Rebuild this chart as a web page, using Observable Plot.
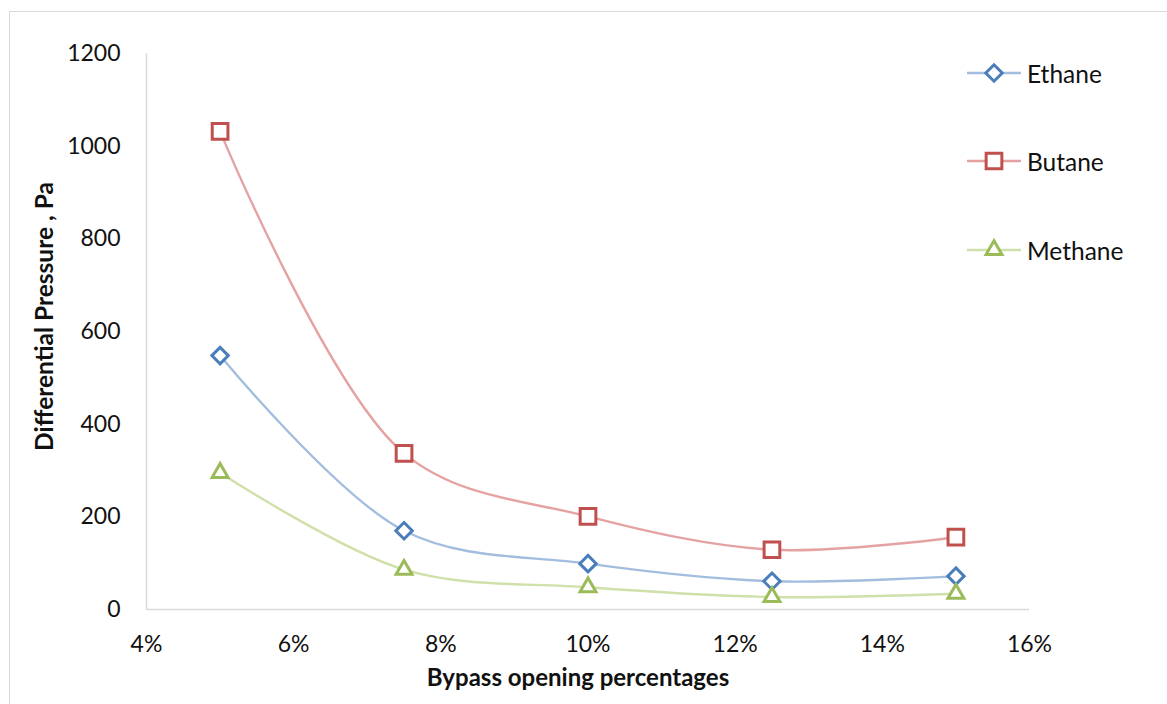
<!DOCTYPE html>
<html>
<head>
<meta charset="utf-8">
<script src="https://cdn.jsdelivr.net/npm/d3@7"></script>
<script src="https://cdn.jsdelivr.net/npm/@observablehq/plot@0.6"></script>
<style>
  html, body { margin: 0; padding: 0; background: #fff; }
  #wrap { position: relative; width: 1167px; height: 704px; overflow: hidden; }
  #frame { position: absolute; left: 9px; top: 11px; width: 1200px; height: 800px;
           border-left: 1.5px solid #d9d9d9; border-top: 1.5px solid #d9d9d9; }
  #chart { position: absolute; left: 0; top: 0; }
  #legend { position: absolute; left: 966px; top: 0; font-family: Lato, "Open Sans", sans-serif;
            font-size: 24.5px; color: #111; }
  .item { position: absolute; left: 0; display: flex; align-items: center; white-space: nowrap; }
  .item svg { margin-right: 5px; }
</style>
</head>
<body>
<div id="wrap">
  <div id="frame"></div>
  <div id="chart"></div>
  <div id="legend"></div>
</div>
<script>
// Bypass opening (%) and measured differential pressure (Pa) per gas
const bypass = [5, 7.5, 10, 12.5, 15];
const ethane = [548, 170, 99, 61, 72];
const butane = [1032, 337, 201, 129, 156];
const methane = [295, 86, 48, 27, 34];

const xTicks = [4, 6, 8, 10, 12, 14, 16];
const yTicks = [0, 200, 400, 600, 800, 1000, 1200];

const series = [
  {name: "Ethane", values: ethane, line: "#a3bddf", mark: "#4a7ebb", symbol: "diamond2", r: 7.4},
  {name: "Butane", values: butane, line: "#e4a3a2", mark: "#c0504d", symbol: "square2", r: 10},
  {name: "Methane", values: methane, line: "#cfe0aa", mark: "#9bbb59", symbol: "triangle2", r: 7.6}
];

const tables = series.map(s => bypass.map((b, i) => ({x: b, y: s.values[i]})));

const marks = [
  Plot.ruleY([0], {stroke: "#d9d9d9", strokeWidth: 1.5}),
  Plot.ruleX([4], {stroke: "#d9d9d9", strokeWidth: 1.5}),
  Plot.axisX({ticks: xTicks, tickFormat: d => d + "%", tickSize: 0, tickPadding: 26,
              fontSize: 23, label: null}),
  Plot.axisY({ticks: yTicks, tickFormat: d => String(d), tickSize: 0, tickPadding: 26,
              fontSize: 23, label: null}),
  Plot.text(["Bypass opening percentages"], {frameAnchor: "bottom", dx: -10, dy: 76,
              fontSize: 24, fontWeight: "bold"}),
  Plot.text(["Differential Pressure , Pa"], {frameAnchor: "left", textAnchor: "middle",
              dx: -101, dy: -15, rotate: -90, fontSize: 24.5, fontWeight: "bold"})
];
series.forEach((s, k) => {
  marks.push(Plot.line(tables[k], {x: "x", y: "y", stroke: s.line, strokeWidth: 2.4,
                                   curve: "catmull-rom"}));
});
series.forEach((s, k) => {
  marks.push(Plot.dot(tables[k], {x: "x", y: "y", symbol: s.symbol, r: s.r, stroke: s.mark,
                                  strokeWidth: 3, fill: "white"}));
});

const chart = Plot.plot({
  width: 1167,
  height: 704,
  marginLeft: 146,
  marginRight: 138,
  marginTop: 53,
  marginBottom: 95,
  style: {fontFamily: "Lato, 'Open Sans', sans-serif", color: "#111", background: "transparent",
          overflow: "visible"},
  x: {domain: [4, 16]},
  y: {domain: [0, 1200]},
  marks
});
document.getElementById("chart").appendChild(chart);

// Legend: short line with the series symbol, then the name
const legend = document.getElementById("legend");
const legendTops = [73, 161, 250];
series.forEach((s, k) => {
  const item = document.createElement("div");
  item.className = "item";
  item.style.top = (legendTops[k] - 15) + "px";
  const svg = d3.create("svg").attr("width", 56).attr("height", 30);
  svg.append("line").attr("x1", 1).attr("x2", 55).attr("y1", 15).attr("y2", 15)
    .attr("stroke", s.line).attr("stroke-width", 2.4);
  const sym = {diamond2: d3.symbolDiamond2, square2: d3.symbolSquare2, triangle2: d3.symbolTriangle2}[s.symbol];
  svg.append("path").attr("transform", "translate(28,15)")
    .attr("d", d3.symbol(sym, Math.PI * s.r * s.r)())
    .attr("fill", "white").attr("stroke", s.mark).attr("stroke-width", 3);
  item.appendChild(svg.node());
  const label = document.createElement("span");
  label.textContent = s.name;
  item.appendChild(label);
  legend.appendChild(item);
});
</script>
</body>
</html>
